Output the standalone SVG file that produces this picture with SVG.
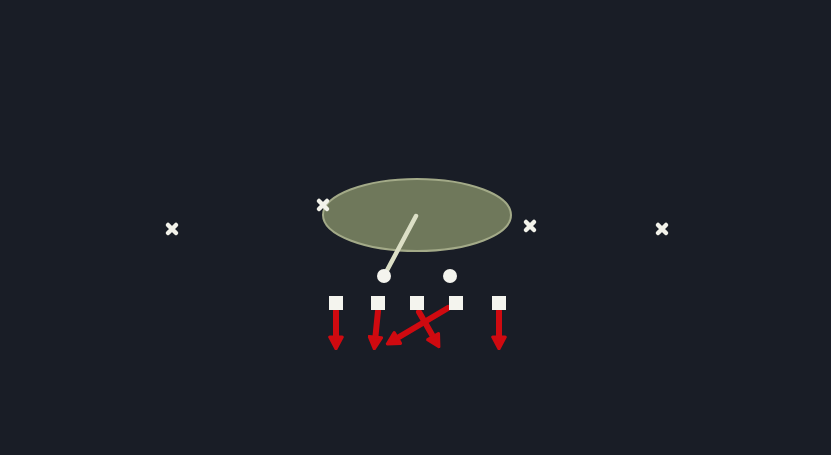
<svg xmlns="http://www.w3.org/2000/svg" width="831" height="455" viewBox="0 0 831 455">
<style>
.x{stroke:#f2f2ea;stroke-width:4.5;stroke-linecap:round}
.sq{fill:#f4f4ee}
.rt{stroke:#cf0a10;stroke-width:6;fill:none;stroke-linecap:round}
</style>
<defs>
<marker id="ah" viewBox="0 0 10 10" refX="4" refY="5" markerWidth="2.6" markerHeight="2.6" orient="auto" markerUnits="strokeWidth">
<path d="M1.5,1 L9,5 L1.5,9 Z" fill="#cf0a10" stroke="#cf0a10" stroke-width="2" stroke-linejoin="round"/>
</marker>
</defs>
<rect width="831" height="455" fill="#191d26"/>
<g id="zone">
<ellipse cx="417" cy="215" rx="94" ry="36" fill="#6f785b" stroke="#a3aa88" stroke-width="2"/>
</g>
<g id="defense">
<path class="x" d="M168,225 L176,233 M176,225 L168,233"/>
<path class="x" d="M319,201 L327,209 M327,201 L319,209"/>
<path class="x" d="M526,222 L534,230 M534,222 L526,230"/>
<path class="x" d="M658,225 L666,233 M666,225 L658,233"/>
</g>
<g id="connectors">
<line x1="416" y1="216" x2="384" y2="276" stroke="#dcdfc6" stroke-width="4.5" stroke-linecap="round"/>
<line class="rt" x1="336" y1="311" x2="336" y2="341" marker-end="url(#ah)"/>
<line class="rt" x1="378" y1="311" x2="375" y2="341" marker-end="url(#ah)"/>
<line class="rt" x1="448" y1="308" x2="394" y2="340" marker-end="url(#ah)"/>
<line class="rt" x1="419" y1="312" x2="435" y2="340" marker-end="url(#ah)"/>
<line class="rt" x1="499" y1="311" x2="499" y2="341" marker-end="url(#ah)"/>
</g>
<g id="backs">
<circle cx="384" cy="276" r="7" fill="#f4f4ee"/>
<circle cx="450" cy="276" r="7" fill="#f4f4ee"/>
</g>
<g id="line">
<rect class="sq" x="329" y="296" width="14" height="14"/>
<rect class="sq" x="371" y="296" width="14" height="14"/>
<rect class="sq" x="410" y="296" width="14" height="14"/>
<rect class="sq" x="449" y="296" width="14" height="14"/>
<rect class="sq" x="492" y="296" width="14" height="14"/>
</g>
</svg>
